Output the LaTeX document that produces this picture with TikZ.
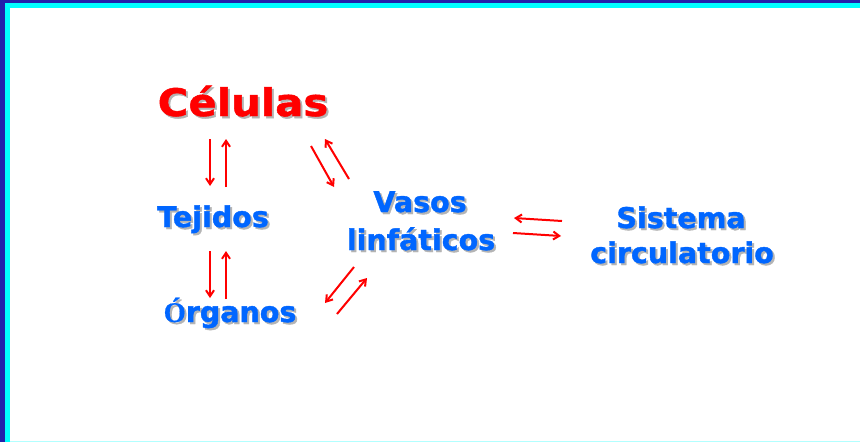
\documentclass[tikz,border=0pt]{standalone}
\usepackage{fontspec}
\setmainfont{DejaVu Sans}
\newfontfamily\heavy{DejaVu Sans Bold}[FakeBold=1.3]
\newfontfamily\heavywide{DejaVu Sans Bold}[FakeBold=1.3,FakeStretch=1.1]
\newfontfamily\serifb{Liberation Serif Bold}[FakeBold=0.6]
\usetikzlibrary{arrows.meta}
\definecolor{cred}{RGB}{255,0,0}
\definecolor{cblue}{RGB}{0,102,255}
\definecolor{cshadow}{RGB}{180,180,180}
\definecolor{cdark}{RGB}{34,34,170}
\definecolor{ccyan}{RGB}{0,255,255}
\tikzset{
  lbl/.style={anchor=base, inner sep=0pt, font=\heavy\fontsize{28.5}{36}\selectfont, text=cblue, align=center},
  big/.style={anchor=base, inner sep=0pt, font=\heavywide\fontsize{38}{44}\selectfont, text=cred},
  shd/.style={text=cshadow},
  arr/.style={draw=cred, line width=2pt, -{Straight Barb[length=6pt,width=8pt,line width=2pt]}}
}
\begin{document}
\begin{tikzpicture}[x=1pt,y=-1pt]
\useasboundingbox (0,0) rectangle (860,442);
\fill[white] (0,0) rectangle (860,442);
% frame
\fill[cdark] (0,0) rectangle (860,3);
\fill[cdark] (0,0) rectangle (5,442);
\fill[ccyan] (5,3) rectangle (860,8);
\fill[ccyan] (5,3) rectangle (10,442);
\fill[ccyan!30] (10,441) rectangle (860,442);
% shadows
\node[big,shd] at (245,118) {Células};
\node[lbl,shd] at (215,229) {Tejidos};
\node[lbl,shd] at (232,324) {{\serifb Ó}rganos};
\node[lbl,shd] at (422,214) {Vasos};
\node[lbl,shd] at (423,252) {linfáticos};
\node[lbl,shd] at (683,230) {Sistema};
\node[lbl,shd] at (684,265) {circulatorio};
% texts
\node[big] (cel) at (243,116) {Células};
\node[lbl] (tej) at (213,227) {Tejidos};
\node[lbl] (org) at (230,322) {{\serifb Ó}rganos};
\node[lbl] (vas) at (420,212) {Vasos};
\node[lbl] (lin) at (421,250) {linfáticos};
\node[lbl] (sis) at (681,228) {Sistema};
\node[lbl] (cir) at (682,263) {circulatorio};
% arrow end points
\coordinate (a1) at (210,139); \coordinate (a2) at (210,186);
\coordinate (b1) at (226,187); \coordinate (b2) at (226,139);
\coordinate (c1) at (210,251); \coordinate (c2) at (210,298);
\coordinate (d1) at (226,299); \coordinate (d2) at (226,251);
\coordinate (e1) at (311,146); \coordinate (e2) at (334,187);
\coordinate (f1) at (349,179); \coordinate (f2) at (325,139);
\coordinate (g1) at (354,267); \coordinate (g2) at (325,303);
\coordinate (h1) at (337,314); \coordinate (h2) at (367,278);
\coordinate (i1) at (562,221); \coordinate (i2) at (514,218);
\coordinate (j1) at (513,233); \coordinate (j2) at (561,236);
\draw[arr] (a1) -- (a2);
\draw[arr] (b1) -- (b2);
\draw[arr] (c1) -- (c2);
\draw[arr] (d1) -- (d2);
\draw[arr] (e1) -- (e2);
\draw[arr] (f1) -- (f2);
\draw[arr] (g1) -- (g2);
\draw[arr] (h1) -- (h2);
\draw[arr] (i1) -- (i2);
\draw[arr] (j1) -- (j2);
\end{tikzpicture}
\end{document}
